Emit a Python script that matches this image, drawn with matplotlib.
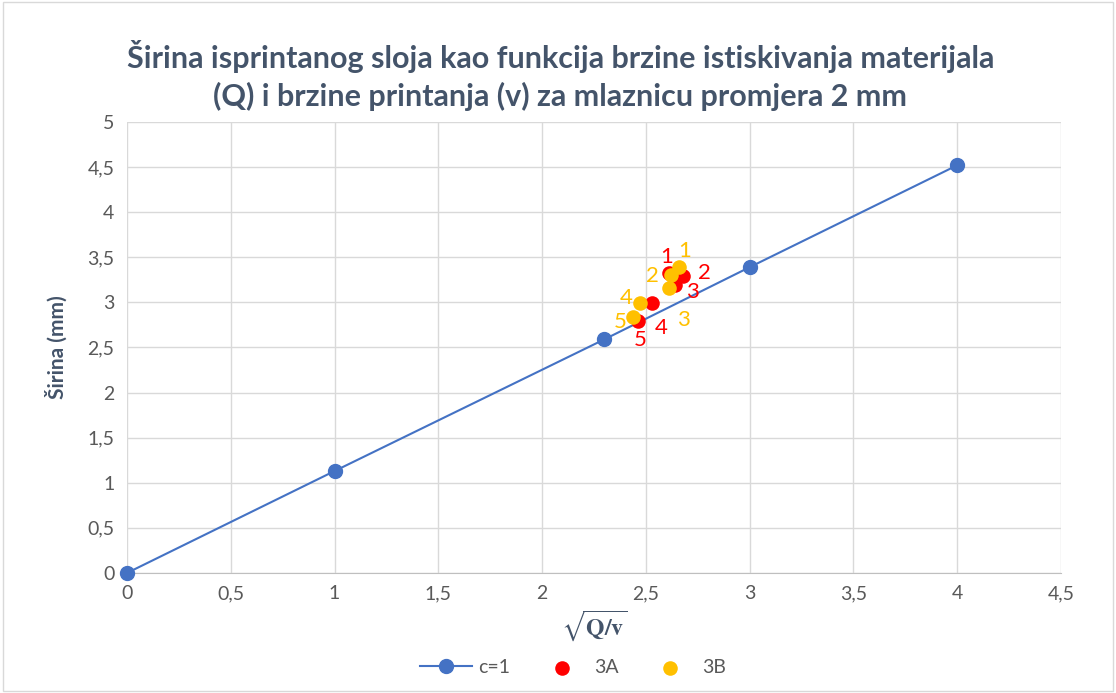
import matplotlib
matplotlib.use("Agg")
import matplotlib.pyplot as plt
from matplotlib.ticker import FuncFormatter, MultipleLocator
from matplotlib.patches import Rectangle

plt.rcParams["font.family"] = ["Lato", "DejaVu Sans"]
plt.rcParams["mathtext.fontset"] = "stix"

# c=1 reference line
c1_x = [0, 1, 2.3, 3, 4]
c1_y = [0, 1.13, 2.59, 3.39, 4.52]

# 3A measurements
a_x = [2.61, 2.68, 2.64, 2.53, 2.46]
a_y = [3.33, 3.29, 3.19, 2.99, 2.79]
a_lbl = ["1", "2", "3", "4", "5"]

# 3B measurements
b_x = [2.66, 2.62, 2.61, 2.47, 2.44]
b_y = [3.39, 3.30, 3.16, 2.99, 2.84]
b_lbl = ["1", "2", "3", "4", "5"]

# label offsets (pixels)
a_off = [(-2, 16), (21, 3), (18, -7), (9, -25), (3, -19)]
b_off = [(6, 16), (-18, -1), (15, -32), (-13, 5), (-13, -5)]

BLUE = "#4472C4"
RED = "#FF0000"
GOLD = "#FFC000"
TXT = "#595959"
TITLE = "#44546A"

fig = plt.figure(figsize=(11.16, 6.93), dpi=100)
fig.patches.append(Rectangle((0.003, 0.003), 0.994, 0.994, transform=fig.transFigure,
                             fill=False, edgecolor="#D9D9D9", linewidth=1))
ax = fig.add_axes([0.1138, 0.1732, 0.8369, 0.6508])

ax.plot(c1_x, c1_y, color=BLUE, linewidth=1.5, marker="o", markersize=10,
        markerfacecolor=BLUE, markeredgecolor=BLUE, label="c=1", zorder=3, clip_on=False)
ax.scatter(a_x, a_y, s=110, color=RED, label="3A", zorder=4, linewidths=0)
ax.scatter(b_x, b_y, s=110, color=GOLD, label="3B", zorder=5, linewidths=0)

for x, y, t, (dx, dy) in zip(a_x, a_y, a_lbl, a_off):
    ax.annotate(t, (x, y), xytext=(dx, dy), textcoords="offset pixels",
                ha="center", va="center", color=RED, fontsize=16, zorder=6)
for x, y, t, (dx, dy) in zip(b_x, b_y, b_lbl, b_off):
    ax.annotate(t, (x, y), xytext=(dx, dy), textcoords="offset pixels",
                ha="center", va="center", color=GOLD, fontsize=16, zorder=6)

ax.set_xlim(0, 4.5)
ax.set_ylim(0, 5)
ax.xaxis.set_major_locator(MultipleLocator(0.5))
ax.yaxis.set_major_locator(MultipleLocator(0.5))
fmt = FuncFormatter(lambda v, p: f"{v:g}".replace(".", ","))
ax.xaxis.set_major_formatter(fmt)
ax.yaxis.set_major_formatter(fmt)
ax.grid(True, color="#D9D9D9", linewidth=1)
ax.set_axisbelow(True)
for s in ["top", "right", "left"]:
    ax.spines[s].set_visible(False)
ax.spines["bottom"].set_color("#BFBFBF")
ax.tick_params(length=0, labelsize=14, labelcolor=TXT, pad=9)

ax.set_xlabel(r"$\mathbf{\sqrt{Q/v}}$", fontsize=17, color=TITLE, labelpad=4)
ax.set_ylabel("Širina (mm)", fontsize=15, fontweight="bold", color=TITLE, labelpad=14)

fig.text(0.502, 0.891, "Širina isprintanog sloja kao funkcija brzine istiskivanja materijala\n"
         "(Q) i brzine printanja (v) za mlaznicu promjera 2 mm",
         ha="center", va="center", fontsize=22, fontweight="bold", color=TITLE,
         linespacing=1.4)

ax.legend(loc="center", bbox_to_anchor=(0.4775, -0.21), ncol=3, frameon=False,
          fontsize=14, labelcolor=TXT, columnspacing=1.3, handletextpad=0.3,
          handlelength=2.7)

fig.savefig("out.png", dpi=100)
